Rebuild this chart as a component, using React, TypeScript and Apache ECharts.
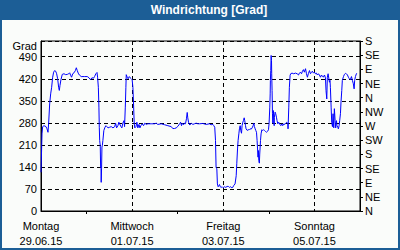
import React, { useEffect, useRef } from "react";
import * as echarts from "echarts";

// hours since Montag 29.06.15 00:00
const hours = [
  0, 0.53, 0.88, 1.58, 2.63, 3.16, 3.68, 4.03, 4.56, 5.09, 5.61, 6.14, 6.66, 7.19, 7.72, 8.24, 8.77, 9.29, 9.65, 10.0,
  10.5, 11.2, 12.1, 13.0, 13.9, 14.6, 15.1, 15.6, 16.1, 16.7, 17.4, 18.1, 18.6, 19.1, 19.6, 20.2, 21.2, 23.0, 24.4, 25.3,
  26.1, 26.8, 27.7, 28.2, 28.9, 29.5, 29.8, 30.2, 30.5, 30.7, 30.9, 31.2, 31.4, 31.6, 31.7, 31.9, 32.1, 32.3, 32.6, 33.1,
  33.7, 34.2, 34.7, 35.3, 36.1, 37.0, 37.9, 38.8, 39.3, 39.8, 40.5, 41.0,
  42.1, 42.6, 43.1, 43.7, 44.0, 44.4, 44.7, 44.9, 45.4, 45.9, 46.5, 47.0, 47.5, 48.0, 48.4, 48.7, 49.1, 49.4, 50.0, 50.5,
  51.0, 51.6, 52.1, 52.6, 53.3, 54.0, 54.7, 55.4, 56.3, 58.0, 59.8, 60.7, 61.5, 63.3, 65.1, 66.8, 68.6, 69.4, 70.3, 71.2,
  72.1, 73.0, 73.5, 74.0, 74.5, 75.1, 75.6, 76.1, 76.6, 77.0, 77.3, 77.7, 78.0, 78.4, 79.1, 80.0, 80.8, 81.7, 82.6,
  83.5, 85.2, 87.0, 88.7, 89.6, 90.5, 91.0, 91.5, 91.9, 92.2, 92.6, 92.9, 93.3, 93.7, 94.0, 94.4, 94.9, 95.4, 95.9, 96.6,
  97.3, 98.0, 98.7, 99.3, 99.8, 100.5, 101.0, 101.5, 102.2, 102.8, 103.1, 103.5, 103.8, 104.2, 104.5, 104.9, 105.2, 105.6,
  105.9, 106.3, 106.6, 107.0, 107.3, 107.7, 108.0, 108.6, 109.1, 109.6, 110.1, 110.7, 111.2, 111.7, 112.1, 112.4, 112.8,
  113.1, 113.5, 113.8, 114.2, 114.3, 114.5, 114.7, 115.0, 115.2, 115.6, 115.9, 116.3, 116.6, 117.2, 117.7, 118.2, 118.7,
  119.3, 119.8, 120.1, 120.5, 120.7, 120.8, 121.0, 121.2, 121.4, 121.5, 121.7, 121.9, 122.1, 122.2, 122.4, 122.6, 122.8,
  122.9, 123.3, 123.6, 124.0, 124.3, 124.7,
  125.2, 125.8, 126.3, 126.8, 127.3, 127.9, 128.4, 128.9, 129.4, 130.0, 130.1, 130.5, 130.8, 131.2, 131.5, 132.2, 133.1,
  134.0, 134.9, 135.6, 136.1, 136.6, 137.2, 137.7, 138.2, 138.7, 139.3, 139.8, 140.3, 140.8, 141.4, 141.9, 142.4, 142.9,
  143.5, 144.0, 144.5, 145.0, 145.6, 146.1, 146.6, 147.2, 147.7, 148.2, 148.7, 149.3, 149.8, 150.1, 150.5, 150.8, 151.2,
  151.5, 151.9, 152.2, 152.4, 152.8, 153.1, 153.5, 153.8, 154.2, 154.5, 154.9, 155.2, 155.6, 155.9, 156.3, 156.6, 157.0,
  157.3, 157.7, 158.0, 158.4, 158.7, 159.3, 159.8, 160.3, 160.8, 161.4, 161.9, 162.4, 162.9, 163.5, 164.0, 164.5, 164.9,
  165.2, 165.6, 166.1, 166.4,
];

// wind direction in degrees (values above 360 are shifted by +360)
const direction = [
  123, 245, 268, 271, 268, 261, 250, 279, 340, 372, 393, 425, 441, 446, 444, 436, 420, 393, 383, 399,
  417, 434, 436, 433, 434, 436, 439, 431, 425, 436, 439, 446, 455, 446, 438, 432, 427, 427, 427, 423,
  417, 423, 422, 427, 436, 440, 425, 393, 330, 266, 224, 208, 139, 134, 91, 134, 203, 208, 224, 256,
  266, 271, 268, 264, 266, 268, 264, 268, 279, 264, 271, 282,
  268, 264, 279, 287, 268, 330, 393, 433, 425, 420, 427, 423, 420, 417, 393, 346, 277, 264, 268, 282,
  264, 275, 264, 271, 277, 271, 279, 275, 277, 277, 277, 279, 275, 277, 274, 271, 268, 262, 262, 264,
  269, 277, 282, 271, 279, 274, 279, 277, 293, 313, 296, 282, 277, 273, 279, 275, 277, 279, 277,
  277, 278, 275, 277, 274, 275, 271, 266, 224, 139, 134, 86, 77, 81, 84, 77, 75, 77, 74, 77,
  75, 78, 78, 75, 77, 74, 75, 81, 86, 112, 150, 197, 224, 245, 261, 271, 256, 247,
  271, 282, 287, 296, 287, 271, 261, 256, 258, 258, 261, 260, 264, 271, 279, 268, 261,
  256, 250, 224, 181, 171, 192, 160, 152, 181, 224, 245, 258, 256, 258, 256, 253, 250,
  253, 258, 277, 330, 372, 415, 446, 494, 478, 436, 383, 309, 279, 303, 319, 287, 271,
  298, 314, 309, 298, 287, 277,
  282, 275, 271, 277, 271, 277, 275, 279, 282, 277, 261, 330, 393, 431, 436, 438, 436,
  438, 436, 432, 438, 441, 436, 444, 449, 441, 452, 436, 425, 436, 446, 436, 440, 444,
  438, 441, 436, 438, 432, 436, 432, 425, 432, 428, 425, 432, 423, 383, 356, 425, 436,
  436, 409, 415, 393, 330, 282, 268, 309, 264, 325, 287, 264, 287, 271, 266, 261, 271,
  287, 309, 346, 383, 415, 427, 434, 437, 436, 432, 425, 420, 417, 427, 415, 404, 388,
  415, 427, 436, 438,
];

const dayLabels = ["Montag\n29.06.15", "Mittwoch\n01.07.15", "Freitag\n03.07.15", "Sonntag\n05.07.15"];
const compassLabels = ["N", "NE", "E", "SE", "S", "SW", "W", "NW", "N", "NE", "E", "SE", "S"];
const titleText = "Windrichtung [Grad]";
const unitText = "Grad";

const FONT = "Liberation Sans";
const BLUE = "#1c5e96";

export default function App() {
  const ref = useRef<HTMLDivElement>(null);
  useEffect(() => {
    if (!ref.current) return;
    const chart = echarts.init(ref.current, undefined, { renderer: "svg" });
    const data = hours.map((h, i) => [h, direction[i]]);
    chart.setOption({
      animation: false,
      backgroundColor: "#fafcfa",
      textStyle: { fontFamily: FONT },
      graphic: [
        { type: "rect", shape: { x: 0, y: 0, width: 400, height: 20 }, style: { fill: BLUE }, z: 0 },
        {
          type: "rect",
          shape: { x: 1, y: 1, width: 398, height: 248 },
          style: { fill: "none", stroke: BLUE, lineWidth: 2 },
          z: 0,
        },
        {
          type: "text",
          x: 209,
          y: 10,
          style: {
            text: titleText,
            fill: "#ffffff",
            font: `bold 12px "${FONT}"`,
            textAlign: "center",
            textVerticalAlign: "middle",
          },
        },
        {
          type: "text",
          x: 37,
          y: 46,
          style: {
            text: unitText,
            fill: "#000",
            font: `11px "${FONT}"`,
            textAlign: "right",
            textVerticalAlign: "middle",
          },
        },
      ],
      grid: {
        left: 41,
        right: 40,
        top: 41,
        bottom: 39,
        show: true,
        borderColor: "#000",
        borderWidth: 1,
        backgroundColor: "transparent",
      },
      xAxis: {
        type: "value",
        min: 0,
        max: 168,
        interval: 48,
        axisLine: { show: true, onZero: false, lineStyle: { color: "#000", width: 1 } },
        axisTick: { show: false },
        minorTick: { show: true, splitNumber: 2, length: 3, lineStyle: { color: "#000" } },
        axisLabel: {
          color: "#000",
          fontSize: 11,
          fontFamily: FONT,
          margin: 7,
          lineHeight: 15,
          showMaxLabel: true,
          formatter: (v: number) => {
            const i = Math.round(v / 48);
            return Math.abs(v - i * 48) < 1e-6 && i < dayLabels.length ? dayLabels[i] : "";
          },
        },
        splitLine: { show: true, lineStyle: { color: "#000", type: [4, 3], width: 1 } },
      },
      yAxis: [
        {
          type: "value",
          min: 0,
          max: 540,
          interval: 70,
          position: "left",
          axisLine: { show: true, lineStyle: { color: "#000", width: 1 } },
          axisTick: { show: false },
          axisLabel: {
            color: "#000",
            fontSize: 11,
            fontFamily: FONT,
            margin: 4,
            formatter: (v: number) => (v % 70 === 0 && v <= 490 ? String(v) : ""),
          },
          splitLine: { show: true, lineStyle: { color: "#000", type: [4, 3], width: 1 } },
        },
        {
          type: "value",
          min: 0,
          max: 540,
          interval: 45,
          position: "right",
          axisLine: { show: true, lineStyle: { color: "#000", width: 1 } },
          axisTick: { show: true, length: 3, lineStyle: { color: "#000" } },
          axisLabel: {
            color: "#000",
            fontSize: 11,
            fontFamily: FONT,
            margin: 5,
            formatter: (v: number) => compassLabels[Math.round(v / 45)] ?? "",
          },
          splitLine: { show: false },
        },
      ],
      series: [
        {
          type: "line",
          data,
          xAxisIndex: 0,
          yAxisIndex: 0,
          showSymbol: false,
          symbol: "none",
          lineStyle: { color: "#0000ff", width: 1 },
          clip: true,
        },
      ],
    });
    return () => chart.dispose();
  }, []);
  return (
    <div
      ref={ref}
      style={{ position: "fixed", left: 0, top: 0, width: 400, height: 250 }}
    />
  );
}
